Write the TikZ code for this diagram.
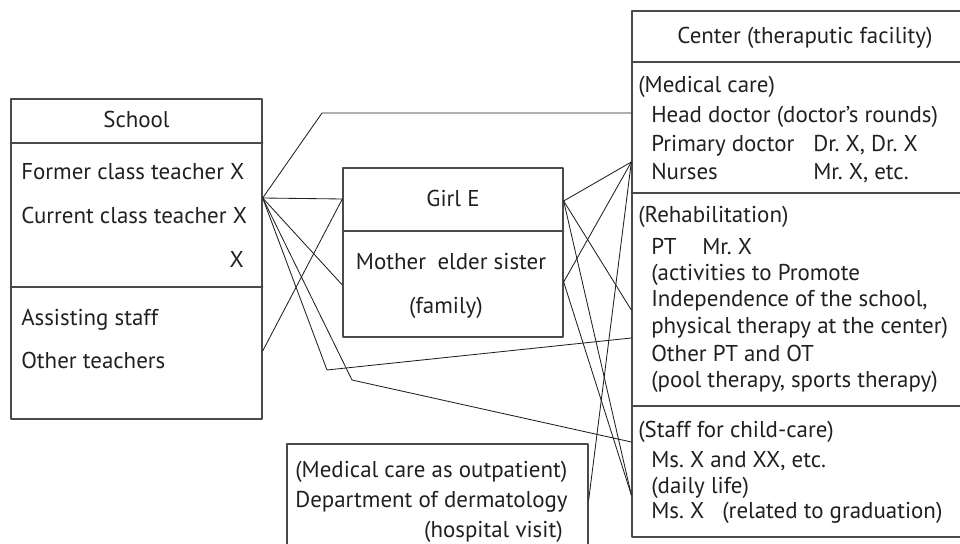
\documentclass[tikz,border=0pt]{standalone}
\usepackage{fontspec}
\setmainfont{PT Sans}
\usetikzlibrary{positioning,fit}
\definecolor{figink}{HTML}{231F20}
\definecolor{figframe}{HTML}{4A4A4A}
\frenchspacing

\begin{document}
\begin{tikzpicture}[
  x=0.025cm,y=-0.025cm,
  line cap=round,line join=round,
  every node/.style={font=\fontsize{16.3}{20}\selectfont,text=figink,inner sep=0pt},
  frame/.style={draw=figframe,line width=0.95pt,fit={#1},inner sep=0pt},
  rule/.style={draw=figframe,line width=0.95pt},
  link/.style={draw=figink,line width=0.6pt},
  lt/.style={anchor=base west},
  ct/.style={anchor=base},
  rt/.style={anchor=base east}
]
\useasboundingbox (0,0) rectangle (960,544);
\clip (0,0) rectangle (960,544);

% Boxes; the centre and outpatient boxes run past the page edge.
\node[frame={(11,99) (262,419)}] (school) {};
\node[frame={(343,168) (563,337)}] (girl) {};
\node[frame={(632,11) (985,537)}] (center) {};
\node[frame={(287,444) (588,560)}] (derm) {};

\draw[rule] (school.west |- 0,143) -- (school.east |- 0,143);
\draw[rule] (school.west |- 0,287) -- (school.east |- 0,287);
\draw[rule] (girl.west |- 0,231) -- (girl.east |- 0,231);
\draw[rule] (center.west |- 0,62) -- (center.east |- 0,62);
\draw[rule] (center.west |- 0,193) -- (center.east |- 0,193);
\draw[rule] (center.west |- 0,406) -- (center.east |- 0,406);

% School
\node[ct] (schHead) at (136.5,128) {School};
\node[lt] (schFormer) at (21,180) {Former class teacher X};
\node[lt] (schCurrent) at (21,224) {Current class teacher X};
\node[rt] (schX) at (244,268) {X};
\node[lt] (schAssist) at (21,325) {Assisting staff};
\node[lt] (schOther) at (21,368) {Other teachers};

% Girl and family
\node[ct] (girlHead) at (453,207) {Girl E};
\node[ct] (girlFam) at (451,270) {Mother\enspace elder sister};
\node[ct] (girlTag) at (446,313) {(family)};

% Centre
\node[ct] (cenHead) at (805,44) {Center (theraputic facility)};
\node[lt] (medHead) at (638,93) {(Medical care)};
\node[lt] (medHd) at (651,123) {Head doctor (doctor’s rounds)};
\node[lt] (medPd) at (651,152) {Primary doctor};
\node[lt] (medPdN) at (813,152) {Dr. X, Dr. X};
\node[lt] (medNs) at (651,180) {Nurses};
\node[lt] (medNsN) at (813,180) {Mr. X, etc.};
\node[lt] (rehHead) at (638,223) {(Rehabilitation)};
\node[lt] (rehPt) at (651,255) {PT};
\node[lt] (rehPtN) at (702,255) {Mr. X};
\node[lt] (rehA) at (651,281) {(activities to Promote};
\node[lt] (rehB) at (651,307) {Independence of the school,};
\node[lt] (rehC) at (651,333) {physical therapy at the center)};
\node[lt] (rehD) at (651,361) {Other PT and OT};
\node[lt] (rehE) at (651,387) {(pool therapy, sports therapy)};
\node[lt] (stfHead) at (638,437) {(Staff for child-care)};
\node[lt] (stfA) at (651,467) {Ms. X and XX, etc.};
\node[lt] (stfB) at (651,493) {(daily life)};
\node[lt] (stfC) at (651,518) {Ms. X};
\node[lt] (stfCN) at (722,518) {(related to graduation)};

% Outpatient
\node[lt] (drmHead) at (295,477) {(Medical care as outpatient)};
\node[lt] (drmDep) at (295,507) {Department of dermatology};
\node[rt] (drmVisit) at (563,537) {(hospital visit)};

% Attachment points on the box edges
\coordinate (schT) at (school.east |- 0,198);
\coordinate (schO) at (school.east |- 0,351);
\coordinate (girlLT) at (girl.west |- 0,199);
\coordinate (girlLB) at (girl.west |- 0,285);
\coordinate (girlRT) at (girl.east |- 0,201);
\coordinate (girlRB) at (girl.east |- 0,282);
\coordinate (cenA) at (center.west |- 0,113);
\coordinate (cenB) at (center.west |- 0,162);
\coordinate (cenC) at (center.west |- 0,310);
\coordinate (cenD) at (center.west |- 0,338);
\coordinate (cenE) at (center.west |- 0,442);
\coordinate (cenF) at (center.west |- 0,495);
\coordinate (drmR) at (derm.east |- 0,500);
\coordinate (kinkA) at (322,113);
\coordinate (kinkD) at (327,370);
\coordinate (kinkE) at (352,380);

% Connections
\draw[link] (schT) -- (kinkA) -- (cenA);
\draw[link] (schT) -- (girlLT);
\draw[link] (schT) -- (girlLB);
\draw[link] (schT) -- (kinkD) -- (cenD);
\draw[link] (schT) -- (kinkE) -- (cenE);
\draw[link] (schO) -- (girlLT);
\draw[link] (girlRT) -- (cenB);
\draw[link] (girlRT) -- (cenC);
\draw[link] (girlRT) -- (cenF);
\draw[link] (girlRB) -- (cenB);
\draw[link] (girlRB) -- (cenF);
\draw[link] (drmR) -- (cenB);

\end{tikzpicture}
\end{document}
